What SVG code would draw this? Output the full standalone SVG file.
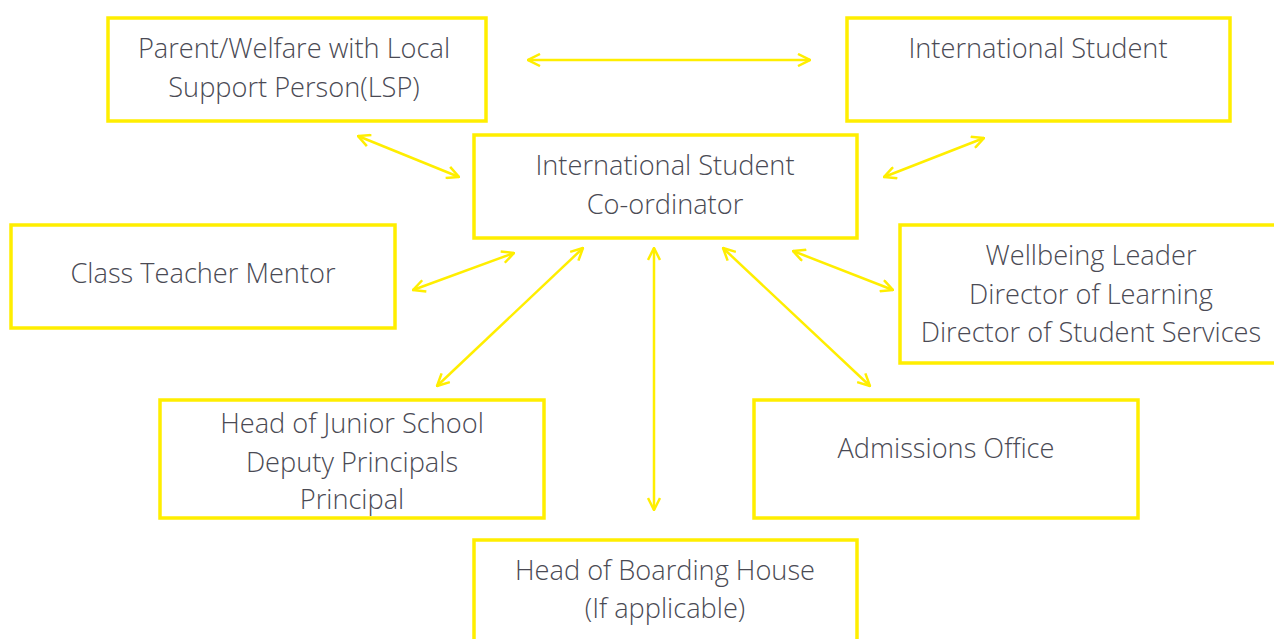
<svg xmlns="http://www.w3.org/2000/svg" width="1274" height="639" viewBox="0 0 1274 639">
<style>
.box{fill:#fff;stroke:#FFEE00;stroke-width:3.5}
.t{font-family:"Open Sans","Noto Sans","Liberation Sans",sans-serif;font-weight:300;font-size:27.2px;fill:#4a4a54;text-anchor:middle}
.c{stroke:#FFEE00;stroke-width:2.5;fill:none;marker-start:url(#a);marker-end:url(#a)}
</style>
<defs>
<marker id="a" viewBox="0 0 14 14" refX="13" refY="7" markerWidth="14" markerHeight="14" markerUnits="userSpaceOnUse" orient="auto-start-reverse">
<path d="M1,1 L13,7 L1,13" fill="none" stroke="#FFEE00" stroke-width="2.5"/>
</marker>
</defs>
<rect width="1274" height="639" fill="#fff"/>
<g id="parent"><rect class="box" x="108" y="18" width="378" height="103"/><text class="t" x="294" y="58">Parent/Welfare with Local</text><text class="t" x="294" y="97">Support Person(LSP)</text></g>
<g id="intl"><rect class="box" x="847" y="18" width="383" height="103"/><text class="t" x="1038" y="58">International Student</text></g>
<g id="coord"><rect class="box" x="474" y="135" width="383" height="103"/><text class="t" x="665" y="175">International Student</text><text class="t" x="665" y="214">Co-ordinator</text></g>
<g id="class"><rect class="box" x="11" y="225" width="384" height="103"/><text class="t" x="203" y="283">Class Teacher Mentor</text></g>
<g id="wellbeing"><rect class="box" x="900" y="225" width="380" height="138"/><text class="t" x="1091" y="265">Wellbeing Leader</text><text class="t" x="1091" y="304">Director of Learning</text><text class="t" x="1091" y="342">Director of Student Services</text></g>
<g id="junior"><rect class="box" x="160" y="400" width="384" height="118"/><text class="t" x="352" y="433">Head of Junior School</text><text class="t" x="352" y="472">Deputy Principals</text><text class="t" x="352" y="509">Principal</text></g>
<g id="admissions"><rect class="box" x="754" y="400" width="384" height="118"/><text class="t" x="946" y="458">Admissions Office</text></g>
<g id="boarding"><rect class="box" x="474" y="540" width="383" height="110"/><text class="t" x="665" y="580">Head of Boarding House</text><text class="t" x="665" y="618">(If applicable)</text></g>
<g id="connectors">
<line class="c" x1="528" y1="60" x2="810" y2="60"/>
<line class="c" x1="358" y1="136" x2="459" y2="177"/>
<line class="c" x1="984" y1="138" x2="884" y2="177"/>
<line class="c" x1="413" y1="290" x2="514" y2="253"/>
<line class="c" x1="583" y1="248" x2="437" y2="386"/>
<line class="c" x1="654" y1="248" x2="654" y2="510"/>
<line class="c" x1="723" y1="248" x2="870" y2="386"/>
<line class="c" x1="793" y1="251" x2="893" y2="290"/>
</g>
</svg>
